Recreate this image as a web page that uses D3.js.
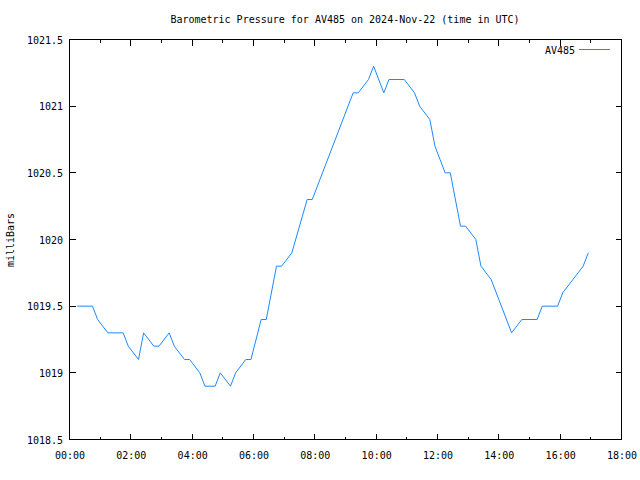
<!DOCTYPE html>
<html>
<head>
<meta charset="utf-8">
<script src="https://cdn.jsdelivr.net/npm/d3@7/dist/d3.min.js"></script>
<style>
  html, body { margin: 0; padding: 0; background: #fff; }
  svg { display: block; }
  text { font-family: "DejaVu Sans Mono", "Liberation Mono", monospace; font-size: 10px; fill: #000; }
</style>
</head>
<body>
<svg id="chart" width="640" height="480"></svg>
<script>
const chartTitle = "Barometric Pressure for AV485 on 2024-Nov-22 (time in UTC)";
const yLabel = "milliBars";
const seriesName = "AV485";
const times = ["00:15","00:45","00:55","01:15","01:45","01:55","02:15","02:25","02:45","02:55",
  "03:15","03:25","03:45","03:55","04:15","04:25","04:45","04:55","05:15","05:25",
  "05:45","05:55","06:15","06:25","06:45","06:55","07:15","07:45","07:55","09:15",
  "09:25","09:45","09:55","10:15","10:25","10:55","11:15","11:25","11:45","11:55",
  "12:05","12:15","12:25","12:45","12:55","13:15","13:25","13:45","14:25","14:45",
  "15:15","15:25","15:55","16:05","16:25","16:45","16:55"];
const pressure = [1019.5,1019.5,1019.4,1019.3,1019.3,1019.2,1019.1,1019.3,1019.2,1019.2,
  1019.3,1019.2,1019.1,1019.1,1019.0,1018.9,1018.9,1019.0,1018.9,1019.0,
  1019.1,1019.1,1019.4,1019.4,1019.8,1019.8,1019.9,1020.3,1020.3,1021.1,
  1021.1,1021.2,1021.3,1021.1,1021.2,1021.2,1021.1,1021.0,1020.9,1020.7,
  1020.6,1020.5,1020.5,1020.1,1020.1,1020.0,1019.8,1019.7,1019.3,1019.4,
  1019.4,1019.5,1019.5,1019.6,1019.7,1019.8,1019.9];
const xTickLabels = ["00:00","02:00","04:00","06:00","08:00","10:00","12:00","14:00","16:00","18:00"];
const yTickValues = [1018.5,1019,1019.5,1020,1020.5,1021,1021.5];

const toHours = s => { const p = s.split(":"); return +p[0] + (+p[1]) / 60; };
const data = times.map((t, i) => ({ h: toHours(t), v: pressure[i] }));

const L = 69.5, R = 621.5, T = 39.5, B = 439.5;
const x = d3.scaleLinear().domain([0, 18]).range([L, R]);
const y = d3.scaleLinear().domain([1018.5, 1021.5]).range([B, T]);

const svg = d3.select("#chart");

// title
svg.append("text").attr("x", 345).attr("y", 23).attr("text-anchor", "middle").text(chartTitle);

// y label
svg.append("text").attr("transform", "translate(14,240) rotate(-90)")
  .attr("text-anchor", "middle").text(yLabel);

const majorX = xTickLabels.map(toHours);
const minorX = d3.range(1, 18, 2);
const g = svg.append("g").attr("shape-rendering", "crispEdges").attr("stroke", "#000").attr("stroke-width", 1);

// ticks bottom/top
majorX.forEach(h => {
  g.append("line").attr("x1", x(h)).attr("x2", x(h)).attr("y1", B).attr("y2", B - 6);
  g.append("line").attr("x1", x(h)).attr("x2", x(h)).attr("y1", T).attr("y2", T + 6);
});
minorX.forEach(h => {
  g.append("line").attr("x1", x(h)).attr("x2", x(h)).attr("y1", B).attr("y2", B - 3);
  g.append("line").attr("x1", x(h)).attr("x2", x(h)).attr("y1", T).attr("y2", T + 3);
});
yTickValues.forEach(v => {
  g.append("line").attr("x1", L).attr("x2", L + 6).attr("y1", y(v)).attr("y2", y(v));
  g.append("line").attr("x1", R).attr("x2", R - 6).attr("y1", y(v)).attr("y2", y(v));
});

// frame
g.append("rect").attr("x", L).attr("y", T).attr("width", R - L).attr("height", B - T).attr("fill", "none");

// tick labels
svg.selectAll(".xl").data(xTickLabels).enter().append("text")
  .attr("x", d => x(toHours(d)) + 0.5).attr("y", 459).attr("text-anchor", "middle").text(d => d);
svg.selectAll(".yl").data(yTickValues).enter().append("text")
  .attr("x", 63).attr("y", d => y(d) + 4).attr("text-anchor", "end").text(d => d3.format("")(d));

// line
const line = d3.line().x(d => x(d.h)).y(d => y(d.v));
svg.append("path").datum(data).attr("d", line).attr("fill", "none")
  .attr("stroke", "#1e88ff").attr("stroke-width", 1);

// legend
svg.append("text").attr("x", 575).attr("y", 54).attr("text-anchor", "end").text(seriesName);
svg.append("line").attr("x1", 579).attr("x2", 610).attr("y1", 49.5).attr("y2", 49.5)
  .attr("stroke", "#1e88ff").attr("stroke-width", 1).attr("shape-rendering", "crispEdges");
</script>
</body>
</html>
